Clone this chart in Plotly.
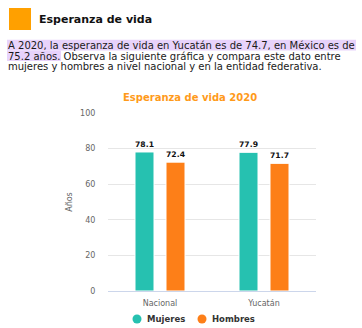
import plotly.graph_objects as go

categories = ["Nacional", "Yucatán"]
mujeres = [78.1, 77.9]
hombres = [72.4, 71.7]
series_names = ["Mujeres", "Hombres"]
y_ticks = [0, 20, 40, 60, 80, 100]

W, H = 362, 328
L, R, T, B = 108, 316, 113, 291

def px(x):
    return (x - L) / (R - L)

def py(y):
    return (B - y) / (B - T)

colors = {"Mujeres": "#26c1b0", "Hombres": "#fd7f18"}
font_txt = "Verdana, DejaVu Sans"

fig = go.Figure()
for name, vals in zip(series_names, [mujeres, hombres]):
    fig.add_trace(go.Bar(name=name, x=categories, y=vals, marker_color=colors[name],
                         marker_line_color="white", marker_line_width=1,
                         text=[f"<b>{v:.1f}</b>" for v in vals], textposition="outside",
                         textfont=dict(family=font_txt, size=11.5, color="#111"),
                         cliponaxis=False, showlegend=False))

shapes = [
    dict(type="rect", xref="paper", yref="paper", x0=px(9), x1=px(31), y0=py(30), y1=py(8),
         fillcolor="#ffa000", line_width=0, layer="above"),
    dict(type="rect", xref="paper", yref="paper", x0=px(7), x1=px(356), y0=py(50.5), y1=py(39.7),
         fillcolor="#e8d3fb", line_width=0, layer="below"),
    dict(type="rect", xref="paper", yref="paper", x0=px(7), x1=px(61), y0=py(61), y1=py(50.5),
         fillcolor="#e8d3fb", line_width=0, layer="below"),
]

lines = [
    "A 2020, la esperanza de vida en Yucatán es de 74.7, en México es de",
    "75.2 años. Observa la siguiente gráfica y compara este dato entre",
    "mujeres y hombres a nivel nacional y en la entidad federativa.",
]
annotations = [
    dict(text="<b>Esperanza de vida</b>", xref="paper", yref="paper", x=px(37), y=py(19),
         xanchor="left", yanchor="middle", showarrow=False,
         font=dict(family=font_txt, size=11, color="#111")),
]
for i, ln in enumerate(lines):
    annotations.append(dict(text=ln, xref="paper", yref="paper", x=px(6), y=py(45.5 + 10.7 * i),
                            xanchor="left", yanchor="middle", showarrow=False,
                            font=dict(family=font_txt, size=10, color="#1a1a1a")))
annotations.append(dict(text="<b>Esperanza de vida 2020</b>", xref="paper", yref="paper",
                        x=px(190), y=py(97), xanchor="center", yanchor="middle", showarrow=False,
                        font=dict(family=font_txt, size=10, color="#ff9a1a")))

# manual legend with circle markers
legend_x = [137, 202]
for name, lx in zip(series_names, legend_x):
    shapes.append(dict(type="circle", xref="paper", yref="paper",
                       x0=px(lx - 4.5), x1=px(lx + 4.5), y0=py(323.5), y1=py(314.5),
                       fillcolor=colors[name], line_width=0))
    annotations.append(dict(text=f"<b>{name}</b>", xref="paper", yref="paper", x=px(lx + 8),
                            y=py(319), xanchor="left", yanchor="middle", showarrow=False,
                            font=dict(family=font_txt, size=8.5, color="#333")))

fig.update_layout(
    width=W, height=H,
    margin=dict(l=L, r=W - R, t=T, b=H - B, pad=0, autoexpand=False),
    paper_bgcolor="white", plot_bgcolor="white",
    barmode="group", bargap=0.404, bargroupgap=0.387,
    showlegend=False,
    shapes=shapes, annotations=annotations,
    xaxis=dict(showline=True, linecolor="#ccd6eb", linewidth=1, ticks="outside", ticklen=4,
               tickcolor="rgba(0,0,0,0)",
               tickfont=dict(family=font_txt, size=8, color="#666")),
    yaxis=dict(range=[0, 100], tickvals=y_ticks, showgrid=True, gridcolor="#e6e6e6",
               zeroline=False, tickfont=dict(family=font_txt, size=8, color="#666"),
               ticks="outside", ticklen=10, tickcolor="rgba(0,0,0,0)",
               title=dict(text="Años", font=dict(family=font_txt, size=8, color="#666"), standoff=6)),
)

fig.write_html("out.html")
